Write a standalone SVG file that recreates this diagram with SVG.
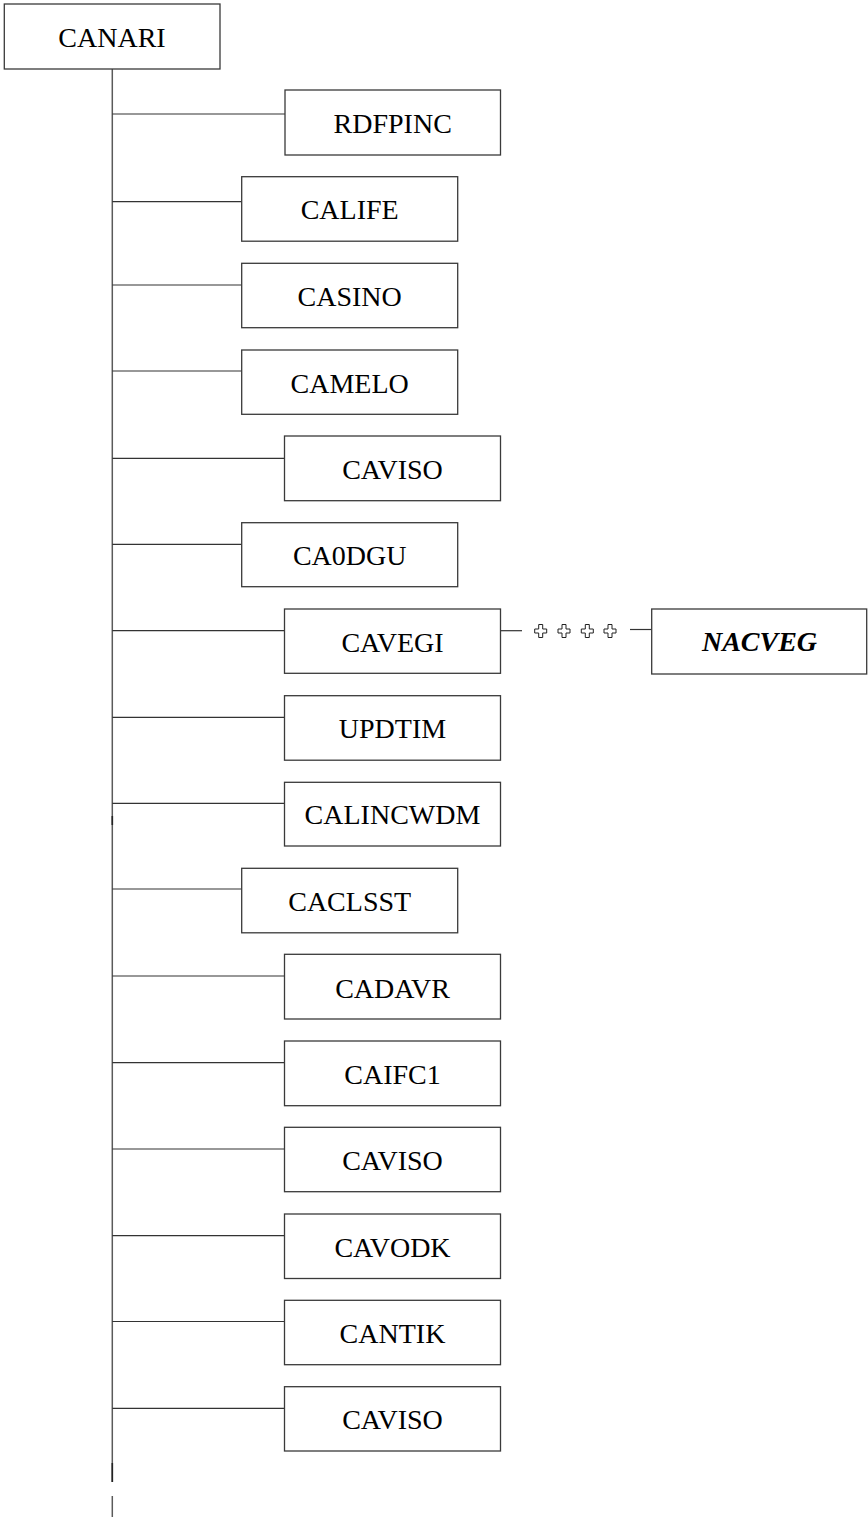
<svg xmlns="http://www.w3.org/2000/svg" width="868" height="1517" viewBox="0 0 868 1517">
  <style>
    .box { fill: #ffffff; stroke: #3a3a3a; stroke-width: 1.3; }
    .lbl { font-family: "Liberation Serif", "Times New Roman", serif; font-size: 28px; fill: #000000; text-anchor: middle; }
    .lbl-call { font-weight: bold; font-style: italic; }
    .trunk { stroke: #5a5a5a; stroke-width: 1.5; fill: none; }
    .trunk-dark { stroke: #222222; stroke-width: 1.6; fill: none; }
    .branch { stroke: #333333; stroke-width: 1.2; fill: none; }
    .cross { fill: #ffffff; stroke: #222222; stroke-width: 1; }
  </style>
  <defs>
    <!-- outlined Greek cross, centred on the origin -->
    <path id="cross" class="cross" d="M-2,-6.5 H2 V-2 H6 V2 H2 V6.5 H-2 V2 H-6 V-2 H-2 Z"/>
  </defs>

  <!-- connectors: main trunk and one branch per called routine -->
  <g id="connectors">
    <line class="trunk" x1="112.3" y1="69" x2="112.3" y2="1482"/>
    <line class="trunk-dark" x1="112.3" y1="816" x2="112.3" y2="825"/>
    <line class="trunk-dark" x1="112.3" y1="1463" x2="112.3" y2="1482"/>
    <line class="trunk" x1="112.3" y1="1496" x2="112.3" y2="1517"/>

    <line class="branch" x1="112.3" y1="114" x2="285" y2="114"/>
    <line class="branch" x1="112.3" y1="201.7" x2="241.7" y2="201.7"/>
    <line class="branch" x1="112.3" y1="285" x2="241.7" y2="285"/>
    <line class="branch" x1="112.3" y1="371" x2="241.7" y2="371"/>
    <line class="branch" x1="112.3" y1="458.3" x2="284.5" y2="458.3"/>
    <line class="branch" x1="112.3" y1="544.3" x2="241.7" y2="544.3"/>
    <line class="branch" x1="112.3" y1="630.7" x2="284.5" y2="630.7"/>
    <line class="branch" x1="112.3" y1="717.3" x2="284.5" y2="717.3"/>
    <line class="branch" x1="112.3" y1="803.3" x2="284.5" y2="803.3"/>
    <line class="branch" x1="112.3" y1="889" x2="241.7" y2="889"/>
    <line class="branch" x1="112.3" y1="976" x2="284.5" y2="976"/>
    <line class="branch" x1="112.3" y1="1062.7" x2="284.5" y2="1062.7"/>
    <line class="branch" x1="112.3" y1="1149" x2="284.5" y2="1149"/>
    <line class="branch" x1="112.3" y1="1235.7" x2="284.5" y2="1235.7"/>
    <line class="branch" x1="112.3" y1="1321.5" x2="284.5" y2="1321.5"/>
    <line class="branch" x1="112.3" y1="1408.3" x2="284.5" y2="1408.3"/>

    <!-- CAVEGI to NACVEG, interrupted by a row of cross marks -->
    <line class="branch" x1="500.5" y1="630.7" x2="522" y2="630.7"/>
    <use href="#cross" x="540.7" y="631"/>
    <use href="#cross" x="564" y="631"/>
    <use href="#cross" x="587.3" y="631"/>
    <use href="#cross" x="610" y="631"/>
    <line class="branch" x1="630" y1="629.5" x2="651.7" y2="629.5"/>
  </g>

  <g id="node-canari">
    <rect class="box" x="4.3" y="4" width="215.7" height="65"/>
    <text class="lbl" x="112" y="46.5">CANARI</text>
  </g>

  <g id="node-rdfpinc">
    <rect class="box" x="285" y="90" width="215.5" height="65"/>
    <text class="lbl" x="392.7" y="132.5">RDFPINC</text>
  </g>
  <g id="node-calife">
    <rect class="box" x="241.7" y="176.7" width="216" height="64.5"/>
    <text class="lbl" x="349.7" y="219">CALIFE</text>
  </g>
  <g id="node-casino">
    <rect class="box" x="241.7" y="263.3" width="216" height="64.4"/>
    <text class="lbl" x="349.7" y="305.5">CASINO</text>
  </g>
  <g id="node-camelo">
    <rect class="box" x="241.7" y="350" width="216" height="64.3"/>
    <text class="lbl" x="349.7" y="392.5">CAMELO</text>
  </g>
  <g id="node-caviso-1">
    <rect class="box" x="284.5" y="436" width="216" height="64.7"/>
    <text class="lbl" x="392.5" y="478.5">CAVISO</text>
  </g>
  <g id="node-ca0dgu">
    <rect class="box" x="241.7" y="522.7" width="216" height="64"/>
    <text class="lbl" x="349.7" y="565">CA0DGU</text>
  </g>
  <g id="node-cavegi">
    <rect class="box" x="284.5" y="609" width="216" height="64.3"/>
    <text class="lbl" x="392.5" y="652">CAVEGI</text>
  </g>
  <g id="node-nacveg">
    <rect class="box" x="651.7" y="609" width="215" height="65"/>
    <text class="lbl lbl-call" x="759.5" y="650.5">NACVEG</text>
  </g>
  <g id="node-updtim">
    <rect class="box" x="284.5" y="695.7" width="216" height="64.5"/>
    <text class="lbl" x="392.5" y="738">UPDTIM</text>
  </g>
  <g id="node-calincwdm">
    <rect class="box" x="284.5" y="782.3" width="216" height="63.7"/>
    <text class="lbl" x="392.5" y="823.5">CALINCWDM</text>
  </g>
  <g id="node-caclsst">
    <rect class="box" x="241.7" y="868.3" width="216" height="64.5"/>
    <text class="lbl" x="349.7" y="910.5">CACLSST</text>
  </g>
  <g id="node-cadavr">
    <rect class="box" x="284.5" y="954.3" width="216" height="64.7"/>
    <text class="lbl" x="392.5" y="998">CADAVR</text>
  </g>
  <g id="node-caifc1">
    <rect class="box" x="284.5" y="1041" width="216" height="64.7"/>
    <text class="lbl" x="392.5" y="1084">CAIFC1</text>
  </g>
  <g id="node-caviso-2">
    <rect class="box" x="284.5" y="1127.3" width="216" height="64.4"/>
    <text class="lbl" x="392.5" y="1170">CAVISO</text>
  </g>
  <g id="node-cavodk">
    <rect class="box" x="284.5" y="1214" width="216" height="64.5"/>
    <text class="lbl" x="392.5" y="1256.5">CAVODK</text>
  </g>
  <g id="node-cantik">
    <rect class="box" x="284.5" y="1300.3" width="216" height="64.4"/>
    <text class="lbl" x="392.5" y="1343">CANTIK</text>
  </g>
  <g id="node-caviso-3">
    <rect class="box" x="284.5" y="1386.7" width="216" height="64.3"/>
    <text class="lbl" x="392.5" y="1429">CAVISO</text>
  </g>
</svg>
